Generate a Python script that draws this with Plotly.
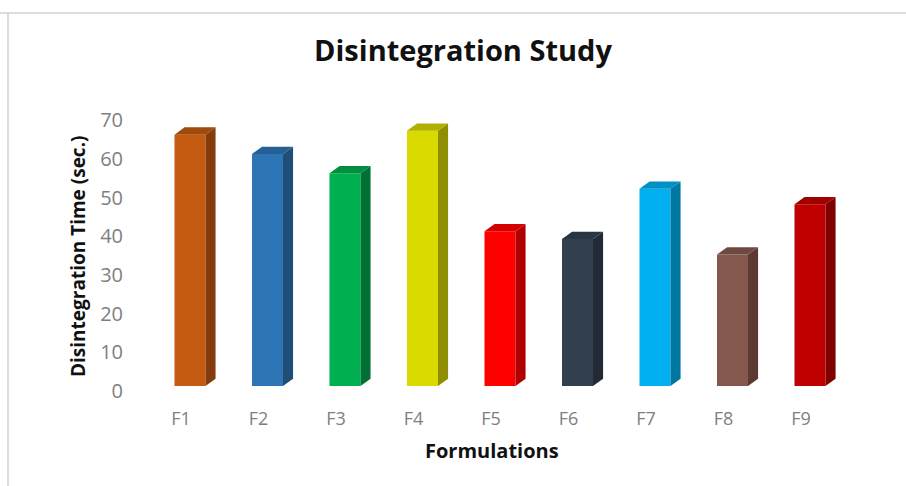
import plotly.graph_objects as go

formulations = ["F1", "F2", "F3", "F4", "F5", "F6", "F7", "F8", "F9"]
disintegration_time = [65, 60, 55, 66, 40, 38, 51, 34, 47]
front_colors = ["#C55A11", "#2E75B6", "#00B050", "#DADA00", "#FF0000", "#323F4F", "#00B0F0", "#85584E", "#C00000"]
side_colors = ["#843C0C", "#1F4E79", "#007135", "#8E8E00", "#B00000", "#222A35", "#0077A3", "#5A3A33", "#800000"]
top_colors = ["#A04A0E", "#255F94", "#008F40", "#B0B000", "#D40000", "#2A3542", "#0090C4", "#6E4940", "#A00000"]

BAR_WIDTH = 0.40   # front face width, in category units
DEPTH_X = 0.13     # extrusion to the right, in category units
DEPTH_Y = 1.9      # extrusion upwards, in axis units

positions = list(range(len(formulations)))
fig = go.Figure()

for pos, value, side, top in zip(positions, disintegration_time, side_colors, top_colors):
    left, right = pos - BAR_WIDTH / 2, pos + BAR_WIDTH / 2
    # right-hand side face
    fig.add_trace(go.Scatter(
        x=[right, right + DEPTH_X, right + DEPTH_X, right, right],
        y=[0, DEPTH_Y, value + DEPTH_Y, value, 0],
        mode="lines", fill="toself", fillcolor=side,
        line=dict(color=side, width=0), hoverinfo="skip", showlegend=False,
    ))
    # top face
    fig.add_trace(go.Scatter(
        x=[left, left + DEPTH_X, right + DEPTH_X, right, left],
        y=[value, value + DEPTH_Y, value + DEPTH_Y, value, value],
        mode="lines", fill="toself", fillcolor=top,
        line=dict(color=top, width=0), hoverinfo="skip", showlegend=False,
    ))

# front faces
fig.add_trace(go.Bar(
    x=positions, y=disintegration_time, width=BAR_WIDTH,
    marker=dict(color=front_colors, line=dict(width=0)), showlegend=False,
))

fig.update_layout(
    width=906, height=486, autosize=False,
    margin=dict(l=130, r=56, t=96, b=100, pad=0),
    paper_bgcolor="#FFFFFF", plot_bgcolor="#FFFFFF",
    font=dict(family="Open Sans"),
    title=dict(
        text="<b>Disintegration Study</b>",
        font=dict(family="Open Sans", size=29, color="#111111"),
        x=463 / 906, xanchor="center", y=1 - 51 / 486, yanchor="middle",
    ),
    xaxis=dict(
        range=[-0.774, 8.516], tickmode="array", tickvals=positions, ticktext=formulations,
        showgrid=False, zeroline=False, showline=False, ticks="",
        ticklabelshift=-9, ticklabelstandoff=20,
        tickfont=dict(family="Open Sans", size=18, color="#7F7F7F"),
    ),
    yaxis=dict(
        range=[0, 75], tickmode="array", tickvals=list(range(0, 71, 10)),
        showgrid=False, zeroline=False, showline=False, ticks="",
        ticklabelshift=5, ticklabelstandoff=6,
        tickfont=dict(family="Open Sans", size=20, color="#7F7F7F"),
    ),
    annotations=[
        dict(text="<b>Formulations</b>", xref="paper", yref="paper",
             x=(492 - 130) / 720, y=-(450 - 386) / 290, xanchor="center", yanchor="middle",
             showarrow=False, font=dict(family="Open Sans", size=20, color="#111111")),
        dict(text="<b>Disintegration Time (sec.)</b>", xref="paper", yref="paper",
             x=(78 - 130) / 720, y=(386 - 256) / 290, xanchor="center", yanchor="middle",
             textangle=-90, showarrow=False, font=dict(family="Open Sans", size=19, color="#111111")),
    ],
    shapes=[
        dict(type="line", xref="paper", yref="paper", x0=-0.1806, x1=1.08, y0=1.2862, y1=1.2862,
             line=dict(color="#DDDDDD", width=2)),
        dict(type="line", xref="paper", yref="paper", x0=-0.1694, x1=-0.1694, y0=1.2862, y1=-0.35,
             line=dict(color="#DDDDDD", width=2)),
    ],
)

fig.write_html("out.html")
